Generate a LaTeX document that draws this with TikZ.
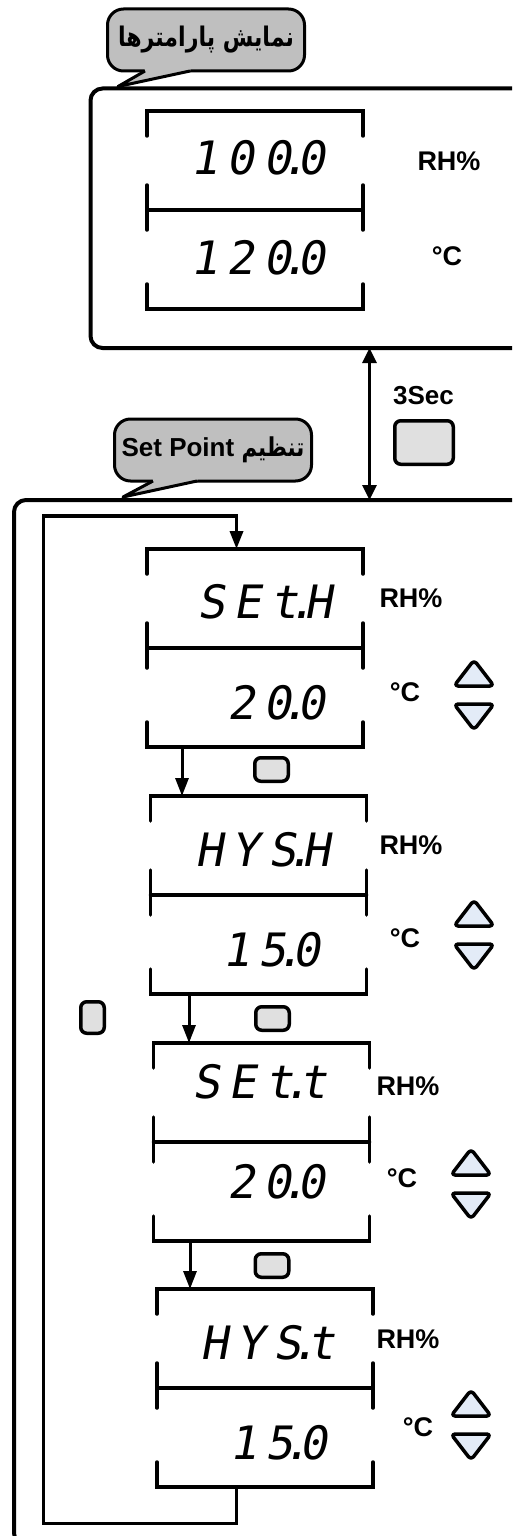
\documentclass[tikz,border=0pt]{standalone}
\usepackage{fontspec}
\setmainfont{Liberation Sans}
\newfontfamily\segfont[FakeSlant=0.18]{DejaVu Sans Mono}
\newfontfamily\fafont[Script=Arabic, FakeStretch=0.82]{DejaVu Sans}
\TeXXeTstate=1
\usetikzlibrary{arrows.meta,calc}
\definecolor{bubgray}{HTML}{BFBFBF}
\definecolor{btngray}{HTML}{E0E0E0}
\definecolor{arrblue}{HTML}{E3EBF7}
\newcommand\sk{\kern9pt}
\newcommand\dt{\kern-11pt.\kern-11pt}
\newcommand\lcdframe[1]{%
 \draw[brk] ([yshift=-25pt]#1.north west) -- (#1.north west) -- (#1.north east) -- ([yshift=-25pt]#1.north east);
 \draw[brk] ([yshift=25pt]#1.west) -- ([yshift=-20pt]#1.west);
 \draw[brk] ([yshift=25pt]#1.east) -- ([yshift=-20pt]#1.east);
 \draw[brk] (#1.west) -- (#1.east);
 \draw[brk] ([yshift=25pt]#1.south west) -- (#1.south west) -- (#1.south east) -- ([yshift=25pt]#1.south east);}
\newcommand\updown[2]{%
 \draw[updn] (#1,#2+2) -- (#1+20,#2+28) -- (#1-20,#2+28) -- cycle;
 \draw[updn] (#1-20,#2+46) -- (#1+20,#2+46) -- (#1,#2+72) -- cycle;}
\tikzset{
 frame/.style={draw, line width=4pt, rounded corners=12pt, inner sep=0pt, outer sep=0pt, anchor=north west},
 disp/.style={inner sep=0pt, outer sep=0pt, minimum width=216pt, minimum height=198pt},
 brk/.style={line width=3.5pt, line cap=round},
 seg/.style={font=\segfont\fontsize{46}{46}\selectfont, inner sep=0pt, anchor=east},
 unit/.style={font=\bfseries\fontsize{27}{27}\selectfont, inner sep=0pt},
 btn/.style={draw, fill=btngray, line width=3.5pt, rounded corners=6pt, inner sep=0pt, outer sep=0pt},
 bubble/.style={draw, fill=bubgray, line width=3pt, rounded corners=16pt, inner sep=0pt, outer sep=0pt, minimum width=197pt, minimum height=62pt},
 flow/.style={line width=3pt, -{Triangle[length=18pt,width=13pt]}},
 updn/.style={draw, fill=arrblue, line width=3.5pt, rounded corners=4pt, line join=round},
}
\begin{document}
\begin{tikzpicture}[x=1pt,y=-1pt]
\useasboundingbox (0,0) rectangle (512,1536);
\clip (0,0) rectangle (512,1536);
% frames
\node[frame, minimum width=450pt, minimum height=259.5pt] (ftop) at (90.5,88.5) {};
\node[frame, minimum width=530pt, minimum height=1045pt] (fbot) at (14,500) {};
% bubbles
\node[bubble] (bub1) at (206,40) {\fafont\bfseries\fontsize{27}{27}\selectfont\beginR نمایش پارامترها\endR};
\fill[bubgray] (144,67) -- (145,71) -- (118,86.5) -- (190,71) -- (191,67) -- cycle;
\draw[line width=3pt, line join=round] (145,71) -- (118,86.5) -- (190,71);
\node[bubble] (bub2) at (213,450) {\fontsize{26}{26}\selectfont\bfseries\beginR{\fafont\fontsize{26}{26}\selectfont تنظیم} \beginL Set Point\endL\endR};
\fill[bubgray] (152,477) -- (153,481) -- (123,497) -- (197,481) -- (198,477) -- cycle;
\draw[line width=3pt, line join=round] (153,481) -- (123,497) -- (197,481);
% displays
\node[disp] (d1) at (255,210) {};
\node[disp] (d2) at (255,648) {};
\node[disp] (d3) at (258.5,895) {};
\node[disp] (d4) at (261.5,1142) {};
\node[disp] (d5) at (265,1388) {};
\lcdframe{d1}\lcdframe{d2}\lcdframe{d3}\lcdframe{d4}\lcdframe{d5}
% display texts
\node[seg] (v1a) at (325,158) {1\sk 0\sk 0\dt 0};
\node[seg] (v1b) at (325,258) {1\sk 2\sk 0\dt 0};
\node[seg] (v2a) at (332,602) {S\sk E\sk t\dt H};
\node[seg] (v2b) at (325,703) {2\sk 0\dt 0};
\node[seg] (v3a) at (330,850) {H\sk Y\sk S\dt H};
\node[seg] (v3b) at (320,950) {1\sk 5\dt 0};
\node[seg] (v4a) at (327,1082) {S\sk E\sk t\dt t};
\node[seg] (v4b) at (325,1182) {2\sk 0\dt 0};
\node[seg] (v5a) at (335,1343) {H\sk Y\sk S\dt t};
\node[seg] (v5b) at (327,1443) {1\sk 5\dt 0};
% units
\node[unit] (u1a) at (449,161) {RH\%};
\node[unit] (u1b) at (447,256) {°C};
\node[unit] (u2a) at (411,598) {RH\%};
\node[unit] (u2b) at (405,692) {°C};
\node[unit] (u3a) at (411,845) {RH\%};
\node[unit] (u3b) at (405,938) {°C};
\node[unit] (u4a) at (408,1086) {RH\%};
\node[unit] (u4b) at (402,1178) {°C};
\node[unit] (u5a) at (408,1339) {RH\%};
\node[unit] (u5b) at (418,1427) {°C};
% up/down keys
\updown{474}{658}
\updown{474}{898}
\updown{471}{1147}
\updown{471}{1388}
% buttons
\node[unit, font=\bfseries\fontsize{26}{26}\selectfont] (sec) at (423.5,396) {3Sec};
\node[btn, minimum width=58.5pt, minimum height=43.5pt] (bbig) at (424,442.5) {};
\node[btn, minimum width=33.5pt, minimum height=23.5pt] (b1) at (271.5,769.5) {};
\node[btn, minimum width=33.5pt, minimum height=23.5pt] (b2) at (272.5,1018.5) {};
\node[btn, minimum width=33.5pt, minimum height=23.5pt] (b3) at (272,1265.5) {};
\node[btn, minimum width=23.5pt, minimum height=31.5pt] (bl) at (92.5,1017.5) {};
% connectors
\coordinate (ax) at (369.5,0);
\draw[line width=3pt, {Triangle[length=15pt,width=14pt]}-{Triangle[length=15pt,width=14pt]}] (ftop.south -| ax) -- (fbot.north -| ax);
\coordinate (a1) at (182,0);
\coordinate (a2) at (189,0);
\coordinate (a3) at (190,0);
\draw[flow] (d2.south -| a1) -- (d3.north -| a1);
\draw[flow] (d3.south -| a2) -- (d4.north -| a2);
\draw[flow] (d4.south -| a3) -- (d5.north -| a3);
\coordinate (lx) at (236.5,0);
\coordinate (lbl) at (43.5,1523.5);
\coordinate (ltl) at (43.5,516);
\draw[flow, line width=3.5pt] (d5.south -| lx) |- (lbl) -- (ltl) -| (d2.north -| lx);
\end{tikzpicture}
\end{document}
